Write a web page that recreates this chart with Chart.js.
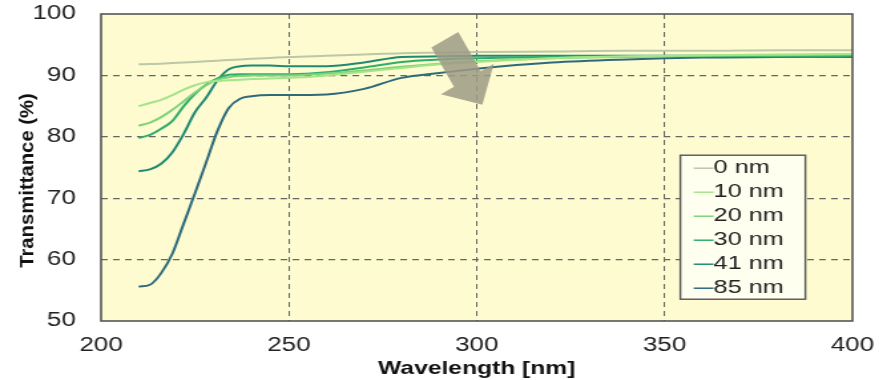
<!DOCTYPE html>
<html>
<head>
<meta charset="utf-8">
<script src="https://cdn.jsdelivr.net/npm/chart.js@4"></script>
<style>
  html, body { margin: 0; padding: 0; background: #fff; overflow: hidden; }
  /* the reference is a horizontally stretched figure, so the chart is drawn narrower and stretched */
  #wrap { width: 667px; height: 380px; transform: scaleX(1.32984); transform-origin: 0 0; }
</style>
</head>
<body>
<div id="wrap"><canvas id="transChart"></canvas></div>
<script>
// === data ===
const wavelengths = [210, 213, 216, 219, 222, 225, 228, 231, 234, 237, 240, 245, 250, 260, 270, 280, 290, 300, 320, 340, 360, 380, 400];
const seriesLabels = ['0 nm', '10 nm', '20 nm', '30 nm', '41 nm', '85 nm'];
const t0 =  [91.8, 91.85, 91.9, 92.0, 92.1, 92.2, 92.3, 92.4, 92.5, 92.6, 92.7, 92.85, 93.0, 93.2, 93.4, 93.6, 93.7, 93.8, 93.9, 94.0, 94.0, 94.1, 94.1];
const t10 = [85.0, 85.5, 86.0, 86.8, 87.7, 88.4, 88.9, 89.1, 89.2, 89.3, 89.4, 89.5, 89.6, 90.0, 90.6, 91.2, 91.8, 92.2, 92.8, 93.1, 93.3, 93.4, 93.5];
const t20 = [81.8, 82.3, 83.2, 84.4, 85.8, 87.2, 88.4, 89.3, 89.7, 89.9, 90.0, 90.0, 90.0, 90.3, 90.8, 91.4, 91.9, 92.3, 92.8, 93.0, 93.2, 93.3, 93.4];
const t30 = [79.8, 80.3, 81.3, 82.6, 85.0, 87.0, 88.5, 89.5, 90.1, 90.2, 90.2, 90.2, 90.2, 90.5, 91.3, 92.2, 92.6, 92.8, 93.0, 93.1, 93.1, 93.1, 93.2];
const t41 = [74.4, 74.7, 75.6, 77.5, 80.5, 84.0, 86.4, 89.2, 91.0, 91.5, 91.6, 91.6, 91.5, 91.5, 92.1, 93.0, 93.1, 93.2, 93.2, 93.2, 93.2, 93.1, 93.0];
const t85 = [55.6, 55.9, 57.8, 61.0, 65.9, 70.8, 75.9, 81.0, 84.7, 86.2, 86.6, 86.8, 86.8, 86.9, 87.8, 89.6, 90.4, 91.1, 92.1, 92.6, 92.9, 93.0, 93.1];
const xTicks = [200, 250, 300, 350, 400];
const yTicks = [50, 60, 70, 80, 90, 100];
const xTitle = 'Wavelength [nm]';
const yTitle = 'Transmittance (%)';

const allSeries = [t0, t10, t20, t30, t41, t85];
const colors = ['#bcc8a8', '#a6e48a', '#7dd47a', '#2fae6a', '#1f8a74', '#2f6a7c'];
const STRETCH = 1.32984;
const FONT = '"Liberation Sans", Arial, sans-serif';

// === plugins ===
const plotDeco = {
  id: 'plotDeco',
  beforeDraw(chart) {
    const { ctx, chartArea: a } = chart;
    ctx.save();
    ctx.fillStyle = '#fdfbcf';
    ctx.fillRect(a.left, a.top, a.right - a.left, a.bottom - a.top);
    ctx.restore();
  },
  afterDatasetsDraw(chart) {
    const { ctx, chartArea: a, scales: { x, y } } = chart;
    // grey arrow, anchored in data units, shaped in on-screen pixels
    const tx = x.getPixelForValue(291.5) * STRETCH, ty = y.getPixelForValue(95.8);
    const hx = x.getPixelForValue(301.5) * STRETCH, hy = y.getPixelForValue(85.2);
    const ang = Math.atan2(hy - ty, hx - tx);
    const len = Math.hypot(hx - tx, hy - ty);
    const c = Math.cos(ang), s = Math.sin(ang);
    const shape = [[0, -15.5], [len - 30, -15.5], [len - 30, -30.5], [len, 0], [len - 30, 30.5], [len - 30, 15.5], [0, 15.5]];
    ctx.save();
    ctx.fillStyle = 'rgba(158,154,134,0.85)';
    ctx.beginPath();
    shape.forEach(([u, v], i) => {
      const px = (tx + u * c - v * s) / STRETCH, py = ty + u * s + v * c;
      if (i === 0) ctx.moveTo(px, py); else ctx.lineTo(px, py);
    });
    ctx.closePath();
    ctx.fill();
    ctx.restore();

    ctx.save();
    ctx.strokeStyle = '#555';
    ctx.lineWidth = 1.6;
    ctx.strokeRect(a.left, a.top, a.right - a.left, a.bottom - a.top);
    ctx.restore();
  },
  afterDraw(chart) {
    const { ctx, chartArea: a, scales: { x, y } } = chart;
    // y axis title, condensed like the original figure
    ctx.save();
    ctx.translate(21.3, (a.top + a.bottom) / 2 + 13);
    ctx.rotate(-Math.PI / 2);
    ctx.scale(1, 0.72);
    ctx.font = 'bold 20.3px ' + FONT;
    ctx.fillStyle = '#111';
    ctx.textAlign = 'center';
    ctx.textBaseline = 'middle';
    ctx.fillText(yTitle, 0, 0);
    ctx.restore();

    // legend box inside plot
    const left = x.getPixelForValue(354.2), top = y.getPixelForValue(77.0);
    const w = 94, h = 144;
    ctx.save();
    ctx.fillStyle = '#fffff0';
    ctx.fillRect(left, top, w, h);
    ctx.strokeStyle = '#555';
    ctx.lineWidth = 1.4;
    ctx.strokeRect(left, top, w, h);
    ctx.font = '19px ' + FONT;
    ctx.textBaseline = 'middle';
    chart.data.datasets.forEach((ds, i) => {
      const cy = top + 13 + i * 24;
      ctx.strokeStyle = ds.borderColor;
      ctx.lineWidth = 1.5;
      ctx.beginPath();
      ctx.moveTo(left + 10, cy);
      ctx.lineTo(left + 25, cy);
      ctx.stroke();
      ctx.fillStyle = '#222';
      ctx.fillText(ds.label, left + 25, cy);
    });
    ctx.restore();
  }
};

const edgeFree = (c) => (c.tick && (c.index === 0 || c.index === c.chart.scales[c.scale.id].ticks.length - 1)) ? 'rgba(0,0,0,0)' : '#666';

new Chart(document.getElementById('transChart'), {
  type: 'line',
  data: {
    datasets: seriesLabels.map((lab, i) => ({
      label: lab,
      data: wavelengths.map((w, j) => ({ x: w, y: allSeries[i][j] })),
      borderColor: colors[i],
      borderWidth: 2,
      pointRadius: 0,
      tension: 0.4,
      cubicInterpolationMode: 'monotone',
      fill: false
    }))
  },
  options: {
    responsive: true,
    maintainAspectRatio: false,
    animation: false,
    layout: { padding: { top: 14, right: 26, left: 0, bottom: 0 } },
    plugins: { legend: { display: false }, tooltip: { enabled: false } },
    scales: {
      x: {
        type: 'linear', min: 200, max: 400,
        afterBuildTicks: (s) => { s.ticks = xTicks.map(v => ({ value: v })); },
        afterFit: (s) => { s.height = 59; s.paddingRight = 0; s.paddingLeft = 0; },
        grid: { color: edgeFree, lineWidth: 1, tickLength: 0, drawTicks: false },
        border: { display: false, dash: [5, 4] },
        ticks: { color: '#222', font: { size: 19.5, family: FONT }, padding: 13 },
        title: { display: true, text: xTitle, color: '#111', padding: { top: -2, bottom: 0 },
                 font: { size: 18.5, weight: 'bold', family: FONT } }
      },
      y: {
        min: 50, max: 100,
        afterBuildTicks: (s) => { s.ticks = yTicks.map(v => ({ value: v })); },
        afterFit: (s) => { s.width = 76; s.paddingTop = 0; s.paddingBottom = 0; },
        grid: { color: edgeFree, lineWidth: 1.2, drawTicks: false },
        border: { display: false, dash: [5, 4] },
        ticks: { color: '#222', font: { size: 19.5, family: FONT }, padding: 19 },
        title: { display: false, text: yTitle }
      }
    }
  },
  plugins: [plotDeco]
});
</script>
</body>
</html>
